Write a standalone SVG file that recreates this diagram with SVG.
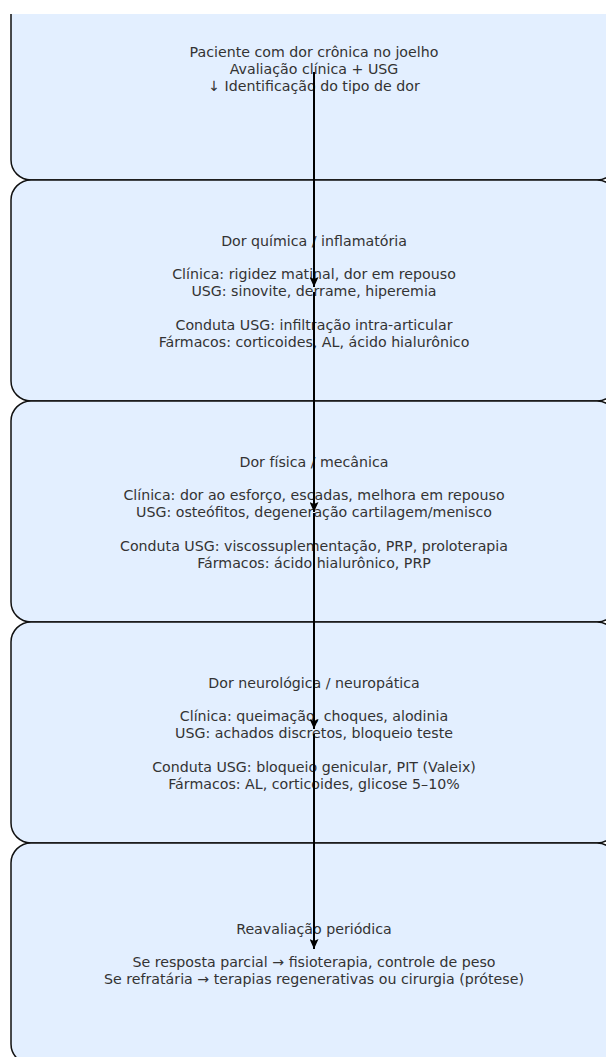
<svg xmlns="http://www.w3.org/2000/svg" width="606" height="1057" viewBox="0 0 606 1057">
<style>
.box{fill:#e3efff;stroke:#111;stroke-width:1.5}
.t{font-family:"DejaVu Sans",sans-serif;font-size:14.2px;fill:#333;text-anchor:middle}
.e{stroke:#000;stroke-width:2;fill:none;marker-end:url(#ah)}
</style>
<defs>
<marker id="ah" markerWidth="11" markerHeight="9" refX="10" refY="4.5" orient="auto" markerUnits="userSpaceOnUse" viewBox="0 0 11 9">
<path d="M0,0 L10,4.5 L0,9 L2,4.5 Z" fill="#000"/>
</marker>
</defs>
<rect width="606" height="1057" fill="#fff"/>
<g id="n1">
<rect class="box" x="11" y="-41" width="606" height="221" rx="20"/>
<text class="t" x="314" y="57">Paciente com dor crônica no joelho</text>
<text class="t" x="314" y="74">Avaliação clínica + USG</text>
<text class="t" x="314" y="91">↓ Identificação do tipo de dor</text>
</g>
<g id="n2">
<rect class="box" x="11" y="180" width="606" height="221" rx="20"/>
<text class="t" x="314" y="245.5">Dor química / inflamatória</text>
<text class="t" x="314" y="279">Clínica: rigidez matinal, dor em repouso</text>
<text class="t" x="314" y="296">USG: sinovite, derrame, hiperemia</text>
<text class="t" x="314" y="329.5">Conduta USG: infiltração intra-articular</text>
<text class="t" x="314" y="346.5">Fármacos: corticoides, AL, ácido hialurônico</text>
</g>
<g id="n3">
<rect class="box" x="11" y="401" width="606" height="221" rx="20"/>
<text class="t" x="314" y="466.5">Dor física / mecânica</text>
<text class="t" x="314" y="500">Clínica: dor ao esforço, escadas, melhora em repouso</text>
<text class="t" x="314" y="517">USG: osteófitos, degeneração cartilagem/menisco</text>
<text class="t" x="314" y="550.5">Conduta USG: viscossuplementação, PRP, proloterapia</text>
<text class="t" x="314" y="567.5">Fármacos: ácido hialurônico, PRP</text>
</g>
<g id="n4">
<rect class="box" x="11" y="622" width="606" height="221" rx="20"/>
<text class="t" x="314" y="687.5">Dor neurológica / neuropática</text>
<text class="t" x="314" y="721">Clínica: queimação, choques, alodinia</text>
<text class="t" x="314" y="738">USG: achados discretos, bloqueio teste</text>
<text class="t" x="314" y="771.5">Conduta USG: bloqueio genicular, PIT (Valeix)</text>
<text class="t" x="314" y="788.5">Fármacos: AL, corticoides, glicose 5–10%</text>
</g>
<g id="n5">
<rect class="box" x="11" y="843" width="606" height="221" rx="20"/>
<text class="t" x="314" y="933.5">Reavaliação periódica</text>
<text class="t" x="314" y="967">Se resposta parcial → fisioterapia, controle de peso</text>
<text class="t" x="314" y="984">Se refratária → terapias regenerativas ou cirurgia (prótese)</text>
</g>
<rect x="0" y="0" width="606" height="14" fill="#fff"/>
<g id="edges">
<line class="e" x1="314" y1="72" x2="314" y2="287"/>
<line class="e" x1="314" y1="292" x2="314" y2="512"/>
<line class="e" x1="314" y1="513" x2="314" y2="729"/>
<line class="e" x1="314" y1="734" x2="314" y2="949"/>
</g>
</svg>
